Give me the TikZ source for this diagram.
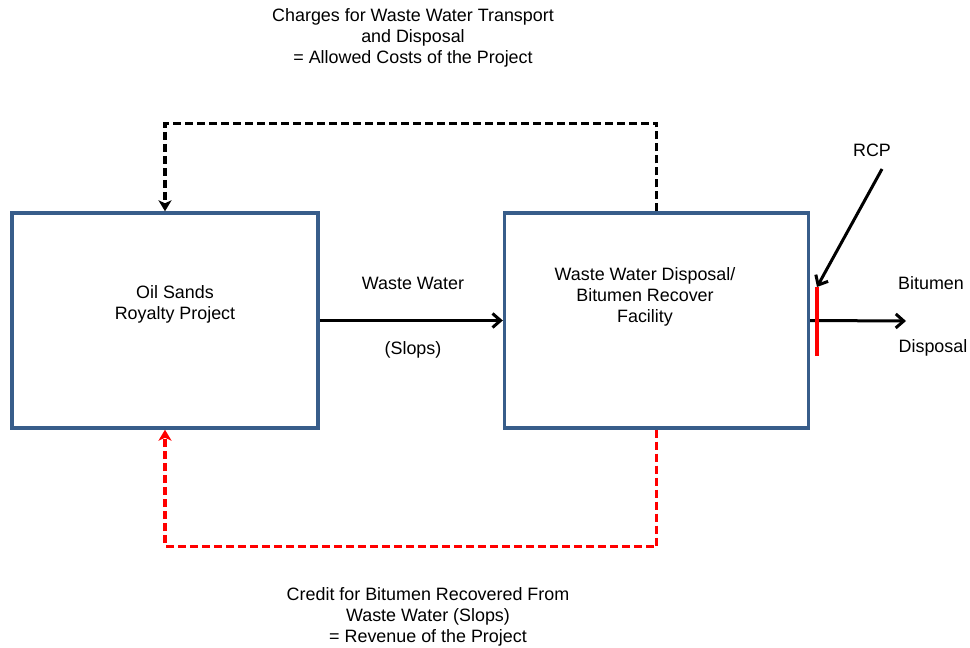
\documentclass[tikz,border=0pt]{standalone}
\usepackage{fontspec}
\setmainfont{Liberation Sans}
\usetikzlibrary{arrows.meta}
\definecolor{boxblue}{RGB}{56,93,138}
\definecolor{slopred}{RGB}{255,0,0}
\begin{document}
\begin{tikzpicture}[x=1pt,y=-1pt,font=\fontsize{17.9}{21}\selectfont,
	unitbox/.style={draw=boxblue,line width=3.4pt,minimum height=215pt,inner sep=0pt},
	flow/.style={line width=3pt,-{Straight Barb[length=8pt,width=14pt,line width=3pt]}},
	chargeline/.style={line width=3.2pt,dash pattern=on 8pt off 4pt,-{Stealth[length=11pt,width=13pt,inset=3pt]}},
	creditline/.style={chargeline,slopred},
	txt/.style={align=center,inner sep=0pt}]
	\useasboundingbox (0,0) rectangle (970,648);

	\node[unitbox,minimum width=306pt] (proj) at (165,320.5) {};
	\node[unitbox,minimum width=304pt] (fac) at (656.5,320.5) {};
	\node[txt] (projtxt) at (175,304) {Oil Sands\\ Royalty Project};
	\node[txt] (factxt) at (645,297) {Waste Water Disposal/\\ Bitumen Recover\\ Facility};

	% flows between the units
	\draw[flow] (proj.east) -- (fac.west);
	\node[txt] (ww) at (413,283) {Waste Water};
	\node[txt] (slops) at (413,350) {(Slops)};

	\draw[chargeline] (fac.north) -- ++(0,-88) -| (proj.north);
	\node[txt] (charges) at (413,38) {Charges for Waste Water Transport\\ and Disposal\\ = Allowed Costs of the Project};

	\draw[creditline] (fac.south) -- ++(0,117) -| (proj.south);
	\node[txt] (credit) at (428,617) {Credit for Bitumen Recovered From\\ Waste Water (Slops)\\ = Revenue of the Project};

	% royalty calculation point
	\coordinate (rcptop) at (817,287);
	\coordinate (rcpbot) at (817,356);
	\coordinate (outend) at (906,321);
	\draw[flow] (fac.east) -- (outend);
	\draw[slopred,line width=3.2pt] (rcptop) -- (rcpbot);
	\node[txt] (rcp) at (872,150) {RCP};
	\coordinate (rcpstart) at (882,169);
	\draw[flow] (rcpstart) -- (rcptop);
	\node[txt] (bit) at (931,283) {Bitumen};
	\node[txt] (disp) at (933,348) {Disposal};
\end{tikzpicture}
\end{document}
